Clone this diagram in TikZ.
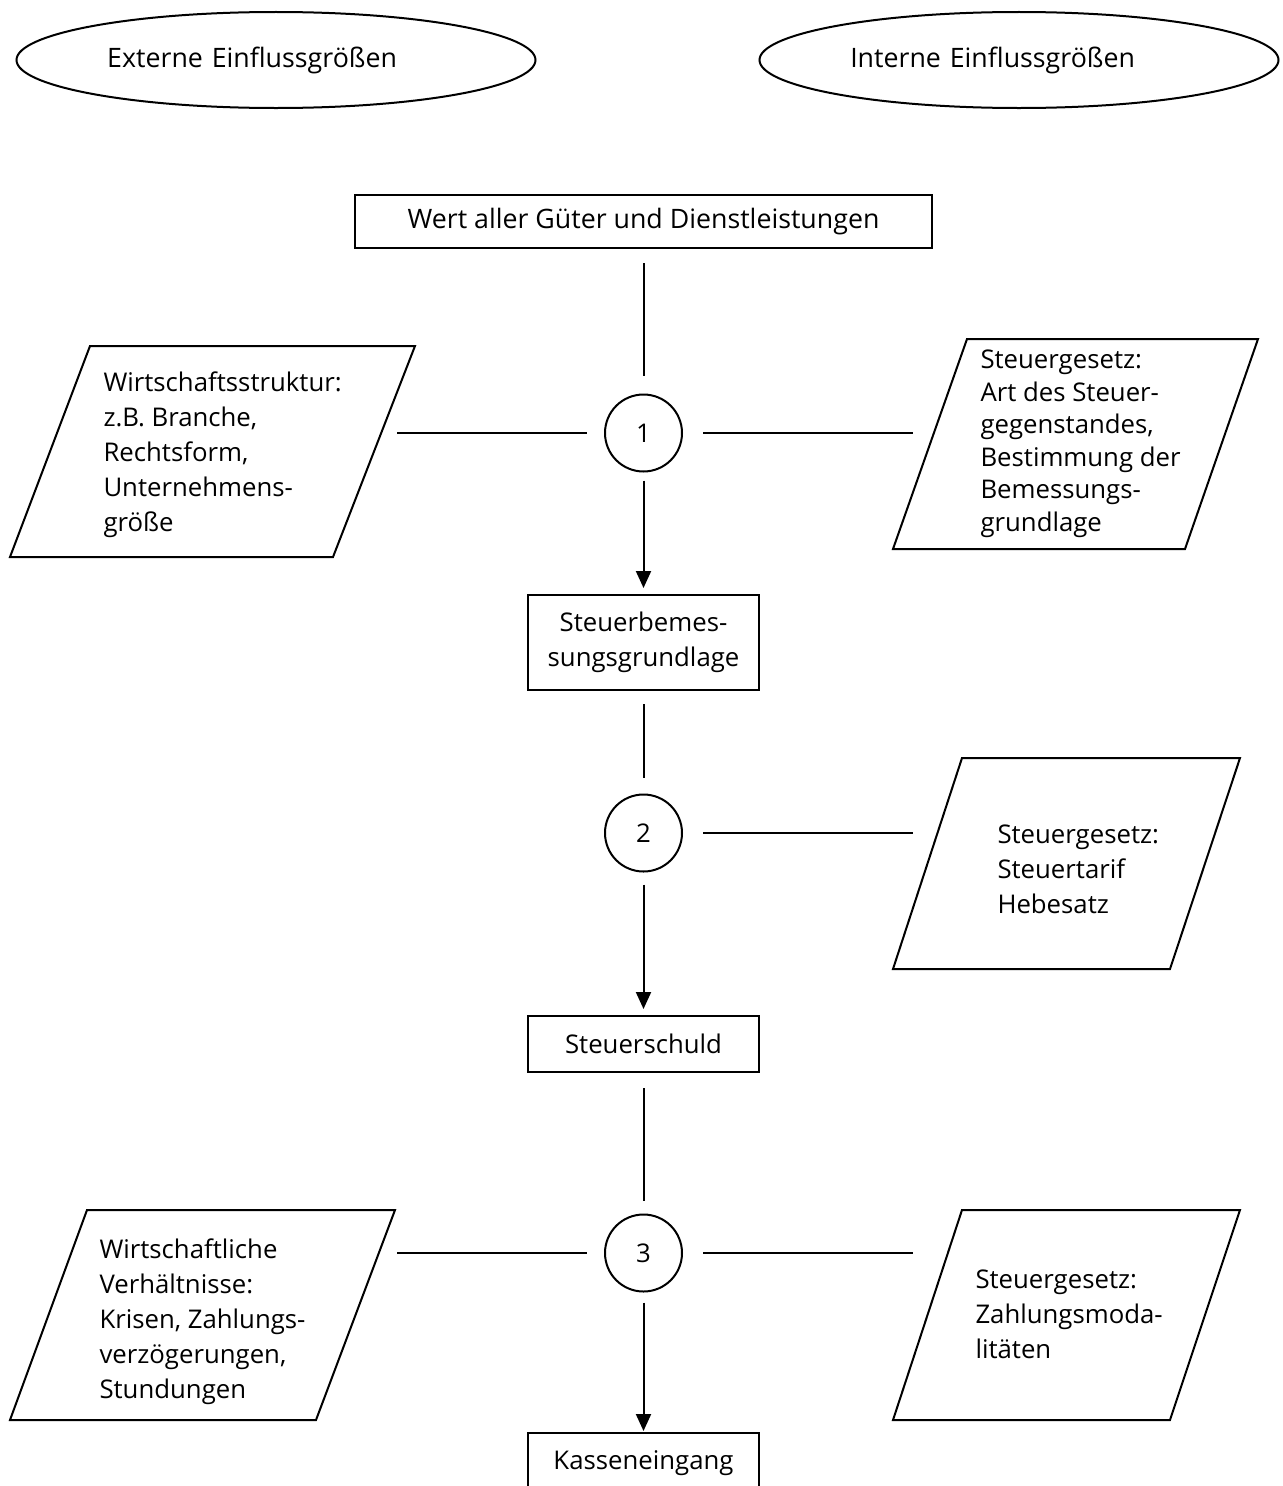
\documentclass[tikz,border=0pt]{standalone}
\usepackage{fontspec}
\setmainfont{Open Sans}
\usetikzlibrary{shapes.geometric,arrows.meta}
\begin{document}
\begin{tikzpicture}[x=0.4pt,y=-0.4pt,
  every node/.style={font=\fontsize{10.3}{14}\selectfont},
  big/.style={font=\fontsize{10.7}{14}\selectfont},
  ln/.style={line width=0.8pt},
  arr/.style={line width=0.8pt,-{Triangle[length=6.8pt,width=6pt]}},
  oval/.style={draw,line width=0.8pt,ellipse,inner sep=0pt,minimum width=207.6pt,minimum height=38.4pt,text width=135pt,align=left,big},
  boxnode/.style={draw,line width=0.8pt,rectangle,inner sep=0pt,align=center},
  num/.style={draw,line width=0.8pt,circle,inner sep=0pt,minimum size=30.8pt},
  para/.style={line width=0.8pt},
  ptext/.style={anchor=west,align=left,inner sep=0pt}]
\clip (0,0) rectangle (1283,1486);
\fill[white] (0,0) rectangle (1283,1486);

% ellipses
\node[oval] (ext) at (276,60) {Externe Einflussgrößen};
\node[oval] (int) at (1019,60) {Interne Einflussgrößen};

% main boxes
\node[boxnode,big,minimum width=230.8pt,minimum height=21.2pt] (b0) at (643.5,221.5) {Wert aller Güter und Dienstleistungen};
\node[boxnode,minimum width=92.4pt,minimum height=38pt] (b1) at (643.5,642.5) {Steuerbemes-\\sungsgrundlage};
\node[boxnode,minimum width=92.4pt,minimum height=22.4pt] (b2) at (643.5,1044) {Steuerschuld};
\node[boxnode,minimum width=92.4pt,minimum height=24pt] (b3) at (643.5,1463) {Kasseneingang};

% circles
\node[num] (c1) at (643.5,433) {1};
\node[num] (c2) at (643.5,833) {2};
\node[num] (c3) at (643.5,1253) {3};

% parallelograms
\draw[para] (90,346) -- (415,346) -- (333,557) -- (10,557) -- cycle;
\node[ptext] (t1l) at (103,455) {Wirtschaftsstruktur:\\z.B. Branche,\\Rechtsform,\\Unternehmens-\\größe};
\draw[para] (967,339) -- (1258,339) -- (1185,549) -- (893,549) -- cycle;
\node[ptext,font=\fontsize{10.3}{13}\selectfont] (t1r) at (980,444) {Steuergesetz:\\Art des Steuer-\\gegenstandes,\\Bestimmung der\\Bemessungs-\\grundlage};
\draw[para] (962,758) -- (1240,758) -- (1170,969) -- (893,969) -- cycle;
\node[ptext] (t2r) at (997,869) {Steuergesetz:\\Steuertarif\\Hebesatz};
\draw[para] (87,1210) -- (395,1210) -- (316,1420) -- (10,1420) -- cycle;
\node[ptext] (t3l) at (99,1322) {Wirtschaftliche\\Verhältnisse:\\Krisen, Zahlungs-\\verzögerungen,\\Stundungen};
\draw[para] (962,1210) -- (1240,1210) -- (1170,1420) -- (893,1420) -- cycle;
\node[ptext] (t3r) at (975,1314) {Steuergesetz:\\Zahlungsmoda-\\litäten};

% free ends of horizontal lines
\coordinate (h1l) at (397,433);
\coordinate (h1r) at (913,433);
\coordinate (h2r) at (913,833);
\coordinate (h3l) at (397,1253);
\coordinate (h3r) at (913,1253);

% vertical connectors
\draw[ln,shorten <=5.6pt,shorten >=7.2pt] (b0) -- (c1);
\draw[arr,shorten <=3.2pt,shorten >=2.4pt] (c1) -- (b1);
\draw[ln,shorten <=5.2pt,shorten >=6.4pt] (b1) -- (c2);
\draw[arr,shorten <=4.8pt,shorten >=2.4pt] (c2) -- (b2);
\draw[ln,shorten <=6pt,shorten >=5.2pt] (b2) -- (c3);
\draw[arr,shorten <=4pt,shorten >=0.4pt] (c3) -- (b3);

% horizontal connectors
\draw[ln,shorten <=7pt] (c1) -- (h1l);
\draw[ln,shorten <=8pt] (c1) -- (h1r);
\draw[ln,shorten <=8pt] (c2) -- (h2r);
\draw[ln,shorten <=7pt] (c3) -- (h3l);
\draw[ln,shorten <=8pt] (c3) -- (h3r);
\end{tikzpicture}
\end{document}
